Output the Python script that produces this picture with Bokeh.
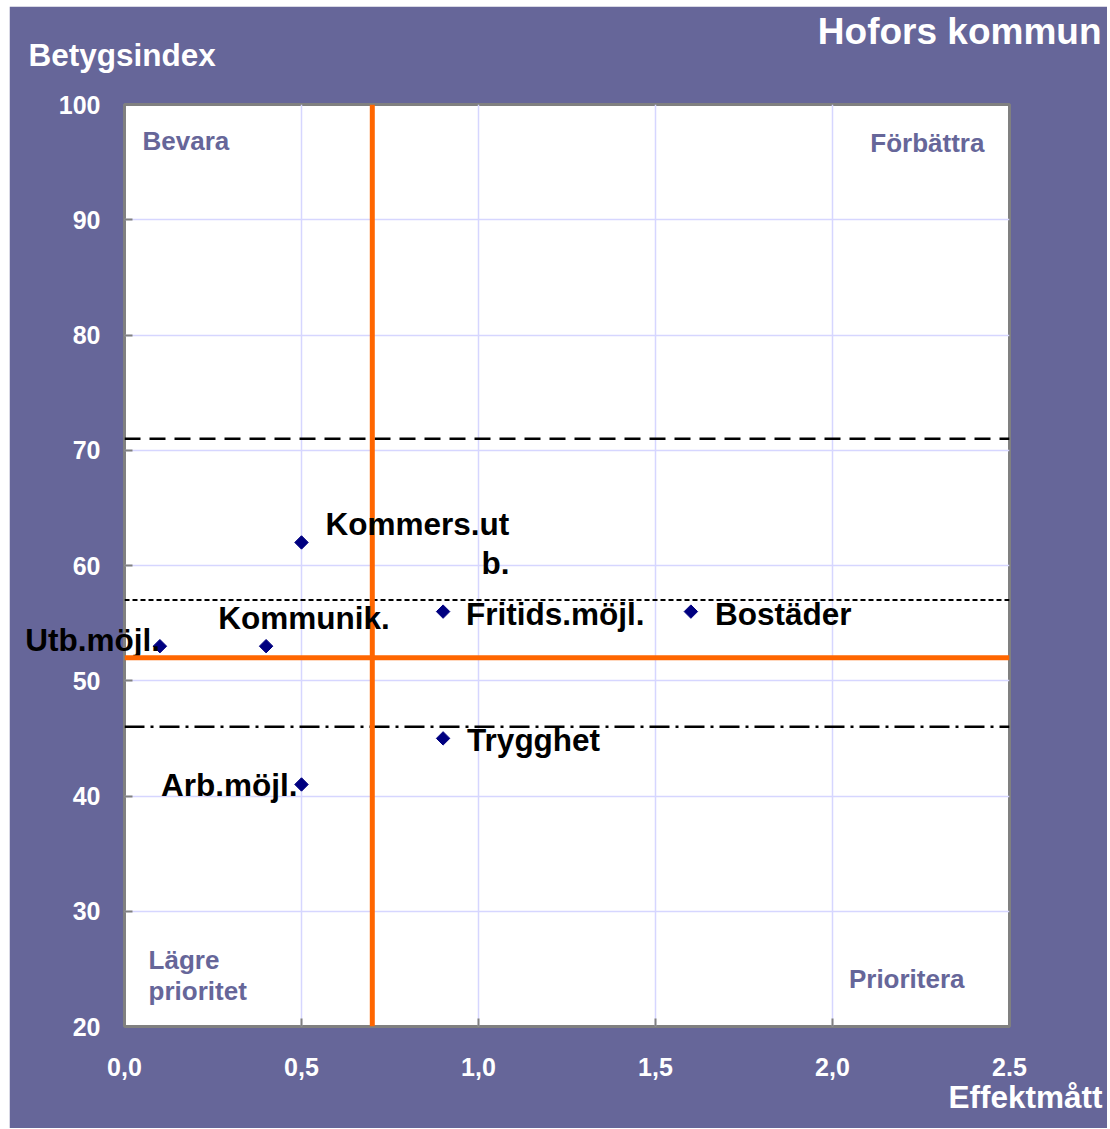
from bokeh.plotting import figure
from bokeh.models import Span, Label, FixedTicker, Range1d
from bokeh.embed import file_html
from bokeh.resources import INLINE
import math

# ---- data ----
names = ["Kommers.utb.", "Utb.möjl.", "Kommunik.", "Fritids.möjl.", "Bostäder", "Trygghet", "Arb.möjl."]
effekt = [0.5, 0.1, 0.4, 0.9, 1.6, 0.9, 0.5]
betyg = [62, 53, 53, 56, 56, 45, 41]

x_ticks = [0.0, 0.5, 1.0, 1.5, 2.0, 2.5]
x_tick_labels = ["0,0", "0,5", "1,0", "1,5", "2,0", "2.5"]
y_ticks = [20, 30, 40, 50, 60, 70, 80, 90, 100]

mean_effekt = 0.7
mean_betyg = 52
line_upper = 71
line_mid = 57
line_lower = 46

title = "Hofors kommun"
y_title = "Betygsindex"
x_title = "Effektmått"
quadrants = ["Bevara", "Förbättra", "Lägre", "prioritet", "Prioritera"]

# ---- styles / layout ----
FONT = "Liberation Sans"
PURPLE = "#666699"

p = figure(width=1098, height=1122, output_backend="svg", toolbar_location=None,
           x_range=Range1d(0, 2.5), y_range=Range1d(20, 100),
           min_border_left=115, min_border_right=98, min_border_top=98, min_border_bottom=102)
p.margin = (6, 0, 0, 9)
p.background_fill_color = "white"
p.border_fill_color = PURPLE
p.outline_line_color = "#808080"
p.outline_line_width = 3

# chart title (zero-height panel, drawn at the top of the stacked header)
p.title.text = title
p.title.align = "right"
p.title.vertical_align = "middle"
p.title.offset = -92
p.title.standoff = -41
p.title.text_font = FONT
p.title.text_font_style = "bold"
p.title.text_font_size = "37px"
p.title.text_color = "white"

for ax in (p.xaxis[0], p.yaxis[0]):
    ax.axis_line_color = None
    ax.major_tick_in = 8
    ax.major_tick_out = 0
    ax.major_tick_line_color = "#808080"
    ax.major_tick_line_width = 2
    ax.minor_tick_line_color = None
    ax.major_label_text_color = "white"
    ax.major_label_text_font = FONT
    ax.major_label_text_font_style = "bold"
    ax.major_label_text_font_size = "25px"

p.xaxis.ticker = FixedTicker(ticks=x_ticks)
p.xaxis.major_label_overrides = {t: l for t, l in zip(x_ticks, x_tick_labels)}
p.xaxis.major_label_standoff = 31
p.yaxis.ticker = FixedTicker(ticks=y_ticks)
p.yaxis.major_label_standoff = 24

p.xgrid.grid_line_color = "#d6d6ff"
p.ygrid.grid_line_color = "#d6d6ff"
p.xgrid.grid_line_width = 1.5
p.ygrid.grid_line_width = 1.5

# reference lines
p.add_layout(Span(location=line_upper, dimension="width", line_color="black", line_width=2.5, line_dash="16 9"))
p.add_layout(Span(location=line_mid, dimension="width", line_color="black", line_width=2, line_dash="5 3"))
p.add_layout(Span(location=line_lower, dimension="width", line_color="black", line_width=2.5, line_dash="20 6 3 6"))
p.add_layout(Span(location=mean_betyg, dimension="width", line_color="#FF6600", line_width=5))
p.add_layout(Span(location=mean_effekt, dimension="height", line_color="#FF6600", line_width=5))

# points
p.scatter(effekt, betyg, marker="square", size=9.5, angle=math.pi / 4,
          fill_color="#000080", line_color="#000080")

# point labels (screen offsets); labels that overflow the frame go to a side panel (not clipped)
label_style = dict(text_font=FONT, text_font_style="bold", text_font_size="31.5px",
                   text_color="black", text_baseline="middle")
layout = {
    "Kommers.utb.": [("Kommers.ut", "left", 24, 18), ("b.", "right", 208, -21)],
    "Utb.möjl.": [("Utb.möjl.", "right", 0, 6)],
    "Kommunik.": [("Kommunik.", "center", 38, 28)],
    "Fritids.möjl.": [("Fritids.möjl.", "left", 23, -2)],
    "Bostäder": [("Bostäder", "left", 24, -2)],
    "Trygghet": [("Trygghet", "left", 24, -2)],
    "Arb.möjl.": [("Arb.möjl.", "right", -4, -1)],
}
for n, xv, yv in zip(names, effekt, betyg):
    for txt, align, dx, dy in layout[n]:
        lab = Label(x=xv, y=yv, text=txt, text_align=align, x_offset=dx, y_offset=dy, **label_style)
        if n == "Utb.möjl.":
            p.add_layout(lab, "above")
        else:
            p.add_layout(lab)

# quadrant labels
q_style = dict(text_font=FONT, text_font_style="bold", text_font_size="26px",
               text_color=PURPLE, text_baseline="middle")
p.add_layout(Label(x=0.051, y=96.8, text=quadrants[0], text_align="left", **q_style))
p.add_layout(Label(x=2.429, y=96.7, text=quadrants[1], text_align="right", **q_style))
p.add_layout(Label(x=0.068, y=25.8, text=quadrants[2], text_align="left", **q_style))
p.add_layout(Label(x=0.068, y=23.1, text=quadrants[3], text_align="left", **q_style))
p.add_layout(Label(x=2.373, y=24.1, text=quadrants[4], text_align="right", **q_style))

# axis titles outside the frame (side panels, data-anchored)
t_style = dict(text_font=FONT, text_font_style="bold", text_color="white", text_baseline="middle")
p.add_layout(Label(x=-0.271, y=104.3, text=y_title, text_align="left", text_font_size="31.5px", **t_style), "above")
p.add_layout(Label(x=2.763, y=13.9, text=x_title, text_align="right", text_font_size="31.5px", **t_style), "below")

open("out.html", "w").write(file_html(p, INLINE))
